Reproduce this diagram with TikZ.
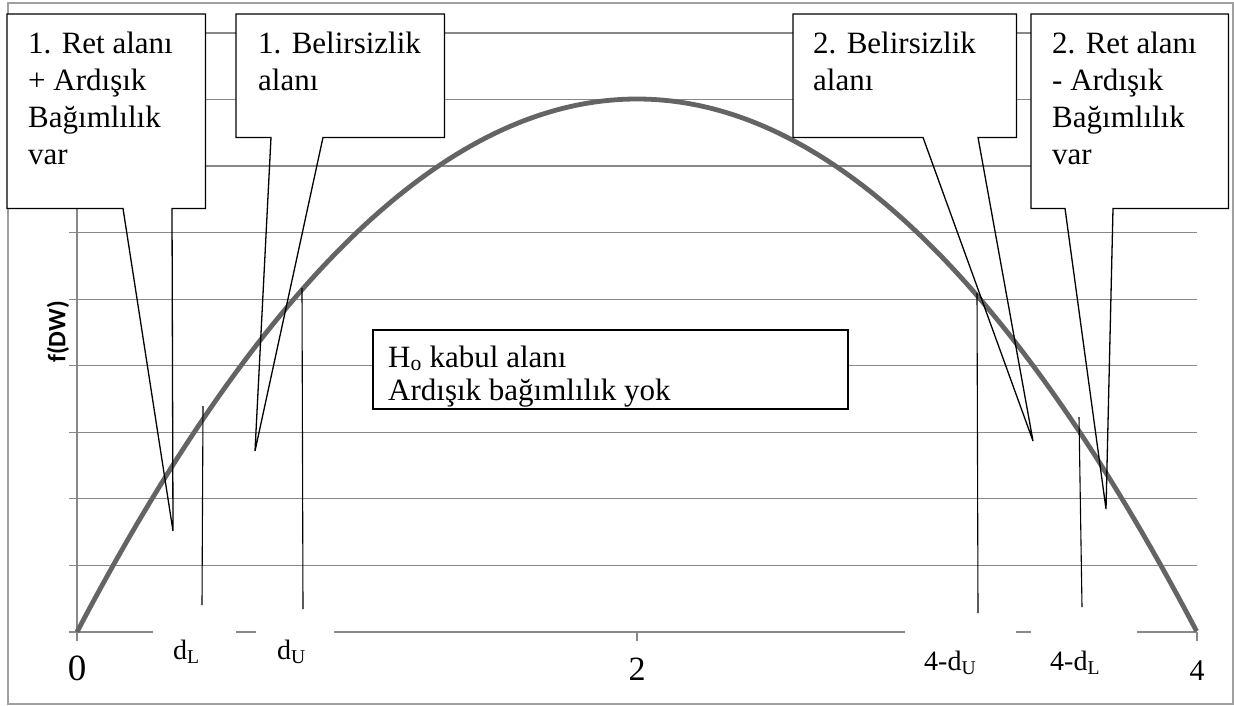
\documentclass[tikz,border=0pt]{standalone}
\usepackage{fontspec}
\setmainfont{Liberation Serif}
\newfontfamily\tnr{Liberation Serif}
\newfontfamily\carl{Carlito}
\usetikzlibrary{calc}
\definecolor{gridgray}{RGB}{136,136,136}
\definecolor{curvegray}{RGB}{100,100,100}
\definecolor{framegray}{RGB}{160,160,160}
\tikzset{
  gridline/.style={draw=gridgray, line width=1.2pt},
  curveline/.style={draw=curvegray, line width=4.8pt},
  vline/.style={draw=black, line width=1.1pt},
  boxfill/.style={fill=white, draw=none, inner sep=0pt, anchor=north west},
  callline/.style={draw=black, line width=1.3pt, line join=miter},
  ctext/.style={anchor=north west, inner sep=0pt, align=left, font=\tnr\fontsize{31}{37}\selectfont},
  mtext/.style={anchor=north west, inner sep=0pt, align=left, font=\tnr\fontsize{31}{33}\selectfont},
  dlab/.style={fill=white, anchor=base west, inner ysep=0pt, text height=42pt, text depth=8pt, align=left, font=\tnr\fontsize{28}{32}\selectfont},
  ticklab/.style={anchor=base, inner sep=0pt}
}
\begin{document}
\begin{tikzpicture}[x=1pt,y=-1pt]
\useasboundingbox (0,0) rectangle (1234,705);
% frame
\draw[framegray, line width=1.2pt] (8,3) rectangle (1233,704);
% grid
\foreach \k in {0,...,9} \draw[gridline] (69,{632-66.56*\k}) -- (1197,{632-66.56*\k});
\draw[gridline] (77,33) -- (77,641);
\draw[gridline] (637,632) -- (637,641);
\draw[gridline] (1197,632) -- (1197,641);
% curve
\draw[curveline] plot[domain=0:4, samples=120, smooth] ({77+280*\x},{632-533*\x*(4-\x)/4});
% vertical marker lines
\coordinate (dLtop) at (203,406); \coordinate (dLbot) at (202,605);
\coordinate (dUtop) at (302,288); \coordinate (dUbot) at (303,609);
\coordinate (rUtop) at (977,293); \coordinate (rUbot) at (978,613);
\coordinate (rLtop) at (1079,417); \coordinate (rLbot) at (1082,607);
\draw[vline] (dLtop) -- (dLbot);
\draw[vline] (dUtop) -- (dUbot);
\draw[vline] (rUtop) -- (rUbot);
\draw[vline] (rLtop) -- (rLbot);
% axis labels
\node[dlab, inner xsep=20pt, text width=43pt] (dL) at (153,659) {d\textsubscript{L}};
\node[dlab, inner xsep=21pt, text width=36pt] (dU) at (256,659) {d\textsubscript{U}};
\node[dlab, inner xsep=19pt, text width=73pt] (rU) at (905,670) {4-d\textsubscript{U}};
\node[dlab, inner xsep=19pt, text width=68pt] (rL) at (1031,670) {4-d\textsubscript{L}};
\node[ticklab, font=\tnr\fontsize{37}{40}\selectfont] (x0) at (77,680) {0};
\node[ticklab, font=\tnr\fontsize{34}{40}\selectfont] (x2) at (637,680) {2};
\node[ticklab, font=\tnr\fontsize{30}{36}\selectfont] (x4) at (1197,680) {4};
\node[rotate=90, inner sep=0pt, font=\carl\bfseries\fontsize{25}{30}\selectfont] (fdw) at (58,332) {f(DW)};
% middle box
\node[fill=white, draw=black, line width=1.6pt, anchor=north west, minimum width=475pt, minimum height=79pt, inner sep=0pt] (mid) at (372,329) {};
\node[mtext] (midt) at (388,{367-0.7*33}) {\strut H\textsubscript{o} kabul alanı\\Ardışık bağımlılık yok};
% callouts
\coordinate (t1) at (173,531);
\coordinate (t2) at (255,451);
\coordinate (t3) at (1033,441);
\coordinate (t4) at (1106,509);
\node[boxfill, minimum width=198pt, minimum height=194pt] (c1) at (7,14) {};
\draw[callline] ($(c1.south west)+(116,0)$) -- (t1) -- ($(c1.south west)+(165,0)$) -- (c1.south east) -- (c1.north east) -- (c1.north west) -- (c1.south west) -- cycle;
\node[ctext] (c1t) at (28,{53-0.7*37}) {\strut 1. Ret alanı\\+ Ardışık\\Bağımlılık\\var};
\node[boxfill, minimum width=208pt, minimum height=123pt] (c2) at (236,14) {};
\draw[callline] ($(c2.south west)+(35,0)$) -- (t2) -- ($(c2.south west)+(87,0)$) -- (c2.south east) -- (c2.north east) -- (c2.north west) -- (c2.south west) -- cycle;
\node[ctext] (c2t) at (258,{53-0.7*37}) {\strut 1. Belirsizlik\\alanı};
\node[boxfill, minimum width=223pt, minimum height=123pt] (c3) at (793,14) {};
\draw[callline] ($(c3.south west)+(130,0)$) -- (t3) -- ($(c3.south west)+(185,0)$) -- (c3.south east) -- (c3.north east) -- (c3.north west) -- (c3.south west) -- cycle;
\node[ctext] (c3t) at (813,{53-0.7*37}) {\strut 2. Belirsizlik\\alanı};
\node[boxfill, minimum width=197pt, minimum height=194pt] (c4) at (1031,14) {};
\draw[callline] ($(c4.south west)+(34,0)$) -- (t4) -- ($(c4.south west)+(82,0)$) -- (c4.south east) -- (c4.north east) -- (c4.north west) -- (c4.south west) -- cycle;
\node[ctext] (c4t) at (1052,{53-0.7*37}) {\strut 2. Ret alanı\\- Ardışık\\Bağımlılık\\var};
\end{tikzpicture}
\end{document}
